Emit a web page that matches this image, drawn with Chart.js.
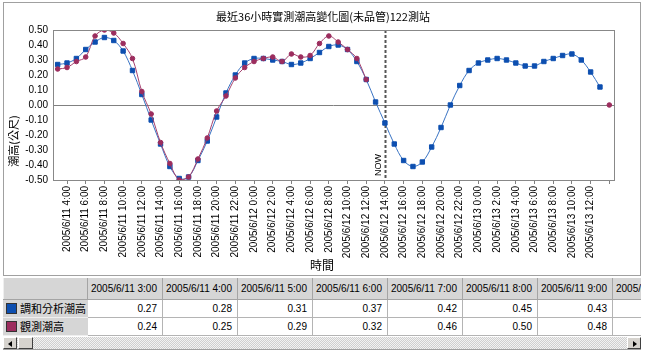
<!DOCTYPE html>
<html>
<head>
<meta charset="utf-8">
<script src="https://cdn.jsdelivr.net/npm/chart.js@4"></script>
<style>
body { margin: 0; background: #fff; }
#wrap { position: relative; width: 645px; height: 352px; overflow: hidden; }
#chart { position: absolute; left: 0; top: 0; }
#grid { position: absolute; left: 3px; top: 278px; width: 638px; height: 58px; overflow: hidden; background: #fff; }
#grid table { width: 684px; border-collapse: collapse; table-layout: fixed; font-family: "Liberation Sans", Arial, sans-serif; font-size: 10px; color: #000; }
#grid td { white-space: nowrap; overflow: hidden; padding: 0; box-sizing: border-box; }
#grid tr.head td { height: 21px; background: #d6d6d6; border-right: 1px solid #a4a4a4; border-left: 1px solid #efefef; border-bottom: 1px solid #a4a4a4; padding-left: 3px; text-align: left; }
#grid tr.row td { height: 18px; background: #fff; border: 1px solid #b4b4b4; border-top: 0; text-align: right; padding-right: 5px; }
#grid tr.row td.name { background: #d6d6d6; text-align: left; padding-left: 2px; border-color: #d6d6d6; border-bottom: 1px solid #efefef; font-family: "Noto Sans CJK TC", sans-serif; font-size: 11px; }
.sw { display: inline-block; width: 9px; height: 9px; border: 1px solid #333; vertical-align: -1px; margin-right: 3px; }
#scroll { position: absolute; left: 3px; top: 337px; width: 638px; height: 12px;
  background: repeating-conic-gradient(#cfcfcf 0 25%, #f2f2f2 0 50%) 0 0 / 2px 2px; }
.btn { position: absolute; top: 0; width: 14px; height: 12px; box-sizing: border-box; background: #d6d3ce;
  border: 1px solid; border-color: #fff #404040 #404040 #fff; }
.arr { position: absolute; top: 3px; width: 0; height: 0; border-top: 3px solid transparent; border-bottom: 3px solid transparent; }
#frameBottom { position: absolute; left: 3px; top: 349px; width: 638px; height: 1px; background: #a0a0a0; }
</style>
</head>
<body>
<div id="wrap">
  <canvas id="chart" width="645" height="278"></canvas>
  <div id="grid"><table id="tbl"></table></div>
  <div id="scroll">
    <div class="btn" style="left:0"><div class="arr" style="left:4px;border-right:4px solid #000"></div></div>
    <div class="btn" style="left:15px;width:15px"></div>
    <div class="btn" style="right:0"><div class="arr" style="left:5px;border-left:4px solid #000"></div></div>
  </div>
  <div id="frameBottom"></div>
</div>
<script>
// hourly categories, 2005/6/11 3:00 .. 2005/6/13 14:00
const timeLabels = [
  '2005/6/11 3:00', '2005/6/11 4:00', '2005/6/11 5:00', '2005/6/11 6:00', '2005/6/11 7:00',
  '2005/6/11 8:00', '2005/6/11 9:00', '2005/6/11 10:00', '2005/6/11 11:00', '2005/6/11 12:00',
  '2005/6/11 13:00', '2005/6/11 14:00', '2005/6/11 15:00', '2005/6/11 16:00', '2005/6/11 17:00',
  '2005/6/11 18:00', '2005/6/11 19:00', '2005/6/11 20:00', '2005/6/11 21:00', '2005/6/11 22:00',
  '2005/6/11 23:00', '2005/6/12 0:00', '2005/6/12 1:00', '2005/6/12 2:00', '2005/6/12 3:00',
  '2005/6/12 4:00', '2005/6/12 5:00', '2005/6/12 6:00', '2005/6/12 7:00', '2005/6/12 8:00',
  '2005/6/12 9:00', '2005/6/12 10:00', '2005/6/12 11:00', '2005/6/12 12:00', '2005/6/12 13:00',
  '2005/6/12 14:00', '2005/6/12 15:00', '2005/6/12 16:00', '2005/6/12 17:00', '2005/6/12 18:00',
  '2005/6/12 19:00', '2005/6/12 20:00', '2005/6/12 21:00', '2005/6/12 22:00', '2005/6/12 23:00',
  '2005/6/13 0:00', '2005/6/13 1:00', '2005/6/13 2:00', '2005/6/13 3:00', '2005/6/13 4:00',
  '2005/6/13 5:00', '2005/6/13 6:00', '2005/6/13 7:00', '2005/6/13 8:00', '2005/6/13 9:00',
  '2005/6/13 10:00', '2005/6/13 11:00', '2005/6/13 12:00', '2005/6/13 13:00', '2005/6/13 14:00'
];

// 調和分析潮高 (harmonic prediction), metres
const harmonicTide = [
  0.27, 0.28, 0.31, 0.37, 0.42, 0.45, 0.43, 0.36, 0.23, 0.07,
  -0.10, -0.26, -0.41, -0.49, -0.48, -0.37, -0.24, -0.08, 0.08, 0.20,
  0.28, 0.31, 0.31, 0.30, 0.29, 0.27, 0.28, 0.31, 0.35, 0.39,
  0.40, 0.37, 0.29, 0.17, 0.02, -0.12, -0.26, -0.37, -0.41, -0.38,
  -0.28, -0.15, 0.00, 0.13, 0.23, 0.28, 0.30, 0.31, 0.30, 0.28,
  0.26, 0.26, 0.29, 0.31, 0.33, 0.34, 0.30, 0.22, 0.12, null
];

// 觀測潮高 (observed), metres
const observedTide = [
  0.24, 0.25, 0.29, 0.32, 0.46, 0.50, 0.48, 0.41, 0.31, 0.09,
  -0.06, -0.25, -0.39, -0.50, -0.48, -0.36, -0.22, -0.04, 0.06, 0.18,
  0.25, 0.29, 0.31, 0.32, 0.29, 0.34, 0.32, 0.33, 0.41, 0.46,
  0.42, 0.37, 0.31, 0.17, null, null, null, null, null, null,
  null, null, null, null, null, null, null, null, null, null,
  null, null, null, null, null, null, null, null, null, 0.00
];

const seriesNames = ['調和分析潮高', '觀測潮高'];
const nowIndex = 35;          // category where the NOW marker sits
const tableColumns = 8;       // columns visible in the data table

const numFont = '"Liberation Sans", Arial, sans-serif';
const cjkFont = '"Noto Sans CJK TC", "Noto Sans CJK SC", sans-serif';
const blueLine = '#3a74c4', blueMark = '#0d4fb0';
const redLine = '#a5426f', redMark = '#9c2d5e';

// frame, plot border, NOW line, titles
const decorPlugin = {
  id: 'decor',
  beforeDraw(chart) {
    const ctx = chart.ctx;
    ctx.save();
    ctx.fillStyle = '#fff';
    ctx.fillRect(0, 0, chart.width, chart.height);
    ctx.strokeStyle = '#a0a0a0';
    ctx.lineWidth = 1;
    ctx.strokeRect(3.5, 2.5, 637, 273);
    ctx.restore();
  },
  beforeDatasetsDraw(chart) {
    const ctx = chart.ctx, a = chart.chartArea;
    const x = Math.round(chart.scales.x.getPixelForValue(nowIndex)) + 0.5;
    ctx.save();
    ctx.strokeStyle = '#555';
    ctx.lineWidth = 2;
    ctx.setLineDash([3, 2]);
    ctx.beginPath();
    ctx.moveTo(x, a.top);
    ctx.lineTo(x, a.bottom);
    ctx.stroke();
    ctx.setLineDash([]);
    // NOW text, rotated
    ctx.translate(x - 7, a.bottom - 4);
    ctx.rotate(-Math.PI / 2);
    ctx.fillStyle = '#000';
    ctx.font = '9px ' + numFont;
    ctx.textAlign = 'left';
    ctx.textBaseline = 'middle';
    ctx.fillText('NOW', 0, 0);
    ctx.restore();
  },
  afterDraw(chart) {
    const ctx = chart.ctx, a = chart.chartArea;
    ctx.save();
    ctx.strokeStyle = '#888';
    ctx.lineWidth = 1;
    ctx.strokeRect(Math.round(a.left) + 0.5, Math.round(a.top) + 0.5,
      Math.round(a.right - a.left), Math.round(a.bottom - a.top));
    ctx.fillStyle = '#000';
    ctx.textAlign = 'center';
    ctx.textBaseline = 'middle';
    ctx.font = '11px ' + cjkFont;
    ctx.fillText('最近36小時實測潮高變化圖(未品管)122測站', 323, 17);
    ctx.font = '12px ' + cjkFont;
    ctx.fillText('時間', 322, 265);
    ctx.translate(14, 141);
    ctx.rotate(-Math.PI / 2);
    ctx.font = '11px ' + cjkFont;
    ctx.fillText('潮高(公尺)', 0, 0);
    ctx.restore();
  }
};

new Chart(document.getElementById('chart'), {
  type: 'line',
  data: {
    labels: timeLabels,
    datasets: [
      {
        label: seriesNames[0],
        data: harmonicTide,
        borderColor: blueLine,
        backgroundColor: blueMark,
        pointBorderColor: blueMark,
        pointStyle: 'rect',
        pointRadius: 3.1,
        borderWidth: 1,
        tension: 0.35,
        order: 1
      },
      {
        label: seriesNames[1],
        data: observedTide,
        borderColor: redLine,
        backgroundColor: redMark,
        pointBorderColor: redMark,
        pointStyle: 'circle',
        pointRadius: 2.3,
        borderWidth: 1,
        tension: 0.35,
        order: 0
      }
    ]
  },
  options: {
    responsive: false,
    animation: false,
    devicePixelRatio: 1,
    layout: { padding: { left: 20, right: 31, top: 30, bottom: 18 } },
    plugins: { legend: { display: false }, tooltip: { enabled: false } },
    scales: {
      x: {
        offset: true,
        border: { display: false },
        grid: { offset: false, drawOnChartArea: false, tickLength: 4, color: '#808080' },
        ticks: {
          autoSkip: false,
          minRotation: 90,
          maxRotation: 90,
          padding: 2,
          color: '#000',
          font: { family: numFont, size: 10 },
          callback: function (val, i) {
            if (i % 2 === 0) return null;
            if (i === timeLabels.length - 1) return '';
            return timeLabels[i];
          }
        },
        afterFit: s => { s.height = 80; }
      },
      y: {
        min: -0.5,
        max: 0.5,
        border: { display: false },
        grid: {
          color: c => (c.tick && Math.abs(c.tick.value) < 1e-9) ? '#808080' : 'rgba(0,0,0,0)',
          tickColor: 'rgba(0,0,0,0)',
          tickLength: 3
        },
        ticks: {
          stepSize: 0.1,
          padding: 2,
          color: '#000',
          font: { family: numFont, size: 10 },
          callback: v => v.toFixed(2)
        },
        afterFit: s => { s.width = 33; }
      }
    }
  },
  plugins: [decorPlugin]
});

// data table under the chart
function buildTable() {
  const tbl = document.getElementById('tbl');
  let html = '<colgroup><col style="width:84px">';
  for (let i = 0; i < tableColumns; i++) html += '<col style="width:75px">';
  html += '</colgroup><tr class="head"><td></td>';
  for (let i = 0; i < tableColumns; i++) html += '<td>' + timeLabels[i] + '</td>';
  html += '</tr>';
  const rows = [[seriesNames[0], harmonicTide, blueMark], [seriesNames[1], observedTide, redMark]];
  rows.forEach(r => {
    html += '<tr class="row"><td class="name"><span class="sw" style="background:' + r[2] + '"></span>' + r[0] + '</td>';
    for (let i = 0; i < tableColumns; i++) html += '<td>' + r[1][i].toFixed(2) + '</td>';
    html += '</tr>';
  });
  tbl.innerHTML = html;
}
buildTable();
</script>
</body>
</html>
